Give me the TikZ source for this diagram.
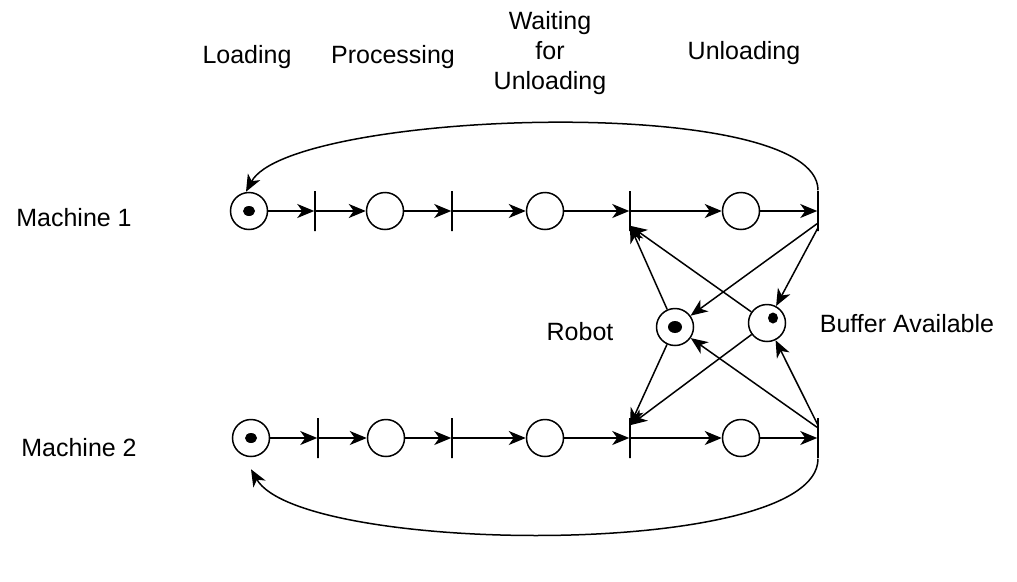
\documentclass[tikz,border=0pt]{standalone}
\usepackage{fontspec}
\setmainfont{Liberation Sans}
\usetikzlibrary{arrows.meta}

\tikzset{
  place/.style={circle, draw, minimum size=37pt, inner sep=0pt},
  trans/.style={rectangle, draw, minimum width=0pt, minimum height=40pt, inner sep=0pt},
  flow/.style={-{Stealth[length=17pt,width=14pt,inset=5pt]}},
  lbl/.style={font=\fontsize{25}{30}\selectfont, align=center, inner sep=0pt}
}

\begin{document}
\begin{tikzpicture}[x=1pt, y=-1pt, line width=1.5pt]
\useasboundingbox (0,0) rectangle (1017,581);

\node (lblLoad) [lbl, anchor=base] at (247,63) {Loading};
\node (lblProc) [lbl, anchor=base] at (393,63) {Processing};
\node (lblWait) [lbl] at (550,53) {Waiting\\for\\Unloading};
\node (lblUnld) [lbl, anchor=base] at (744,59) {Unloading};
\node (lblMA) [lbl, anchor=base] at (74,226) {Machine 1};
\node (lblMB) [lbl, anchor=base] at (79,456) {Machine 2};
\node (lblRob) [lbl, anchor=base] at (580,340) {Robot};
\node (lblBuf) [lbl, anchor=base] at (907,332) {Buffer Available};

% machine 1
\node (pA0) [place] at (249,211) {};
\node (tA0) [trans] at (315,211) {};
\node (pA1) [place] at (385,211) {};
\node (tA1) [trans] at (452,211) {};
\node (pA2) [place] at (545,211) {};
\node (tA2) [trans] at (630,211) {};
\node (pA3) [place] at (741,211) {};
\node (tA3) [trans] at (818,211) {};

% machine 2
\node (pB0) [place] at (251,438) {};
\node (tB0) [trans] at (318,438) {};
\node (pB1) [place] at (386,438) {};
\node (tB1) [trans] at (452,438) {};
\node (pB2) [place] at (545,438) {};
\node (tB2) [trans] at (630,438) {};
\node (pB3) [place] at (741,438) {};
\node (tB3) [trans] at (818,438) {};

% shared resources
\node (rob) [place] at (675,327) {};
\node (buf) [place] at (767,323) {};

% tokens
\fill (pA0) ellipse (6pt and 5pt);
\fill (pB0) ellipse (6pt and 5pt);
\fill (rob) ellipse (7pt and 6pt);
\fill ([xshift=6pt,yshift=5pt]buf.center) ellipse (5pt and 5.5pt);

\draw[flow] (pA0) -- (tA0);
\draw[flow] (tA0) -- (pA1);
\draw[flow] (pA1) -- (tA1);
\draw[flow] (tA1) -- (pA2);
\draw[flow] (pA2) -- (tA2);
\draw[flow] (tA2) -- (pA3);
\draw[flow] (pA3) -- (tA3);

\draw[flow] (pB0) -- (tB0);
\draw[flow] (tB0) -- (pB1);
\draw[flow] (pB1) -- (tB1);
\draw[flow] (tB1) -- (pB2);
\draw[flow] (pB2) -- (tB2);
\draw[flow] (tB2) -- (pB3);
\draw[flow] (pB3) -- (tB3);

% robot and buffer arcs
\draw[flow] (rob) -- ([yshift=6pt]tA2.south);
\draw[flow] (buf) -- ([yshift=6pt]tA2.south);
\draw[flow] ([xshift=-1pt,yshift=8pt]tA3.south) -- (rob);
\draw[flow] ([yshift=4pt]tA3.south) -- (buf);
\draw[flow] (rob) -- ([yshift=-8pt]tB2.north);
\draw[flow] (buf) -- ([yshift=-8pt]tB2.north);
\draw[flow] ([xshift=-1pt,yshift=-10pt]tB3.north) -- (rob);
\draw[flow] ([yshift=-8pt]tB3.north) -- (buf);

% return arcs
\draw[flow] (tA3.north) .. controls (818,92) and (290,110) .. ([xshift=-3pt]pA0.north);
\draw[flow] (tB3.south) .. controls (818,560) and (300,555) .. ([yshift=-12pt]pB0.south);
\end{tikzpicture}
\end{document}
